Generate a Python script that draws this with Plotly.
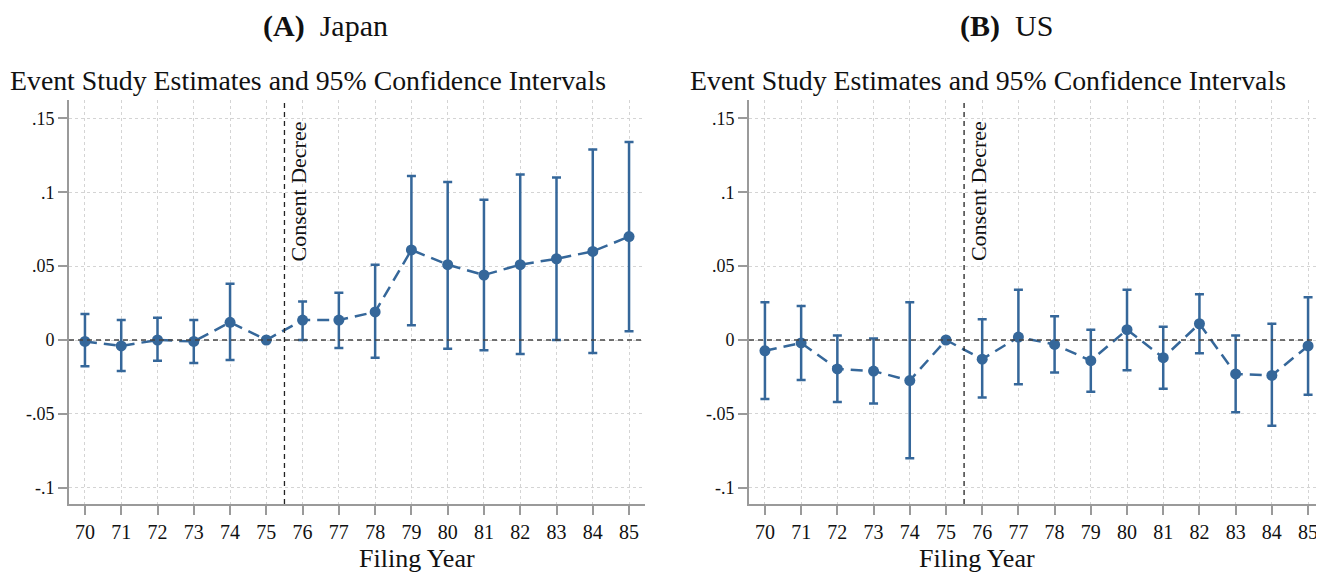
import plotly.graph_objects as go

years = list(range(70, 86))
year_labels = [str(y) for y in years]

jp_est = [-0.001, -0.004, 0.0, -0.001, 0.012, 0.0, 0.0135, 0.0135, 0.019, 0.061, 0.051, 0.044, 0.051, 0.055, 0.060, 0.070]
jp_hi = [0.0176, 0.0135, 0.015, 0.0135, 0.038, None, 0.026, 0.032, 0.051, 0.111, 0.107, 0.095, 0.112, 0.110, 0.129, 0.134]
jp_lo = [-0.0178, -0.021, -0.014, -0.0155, -0.0135, None, 0.0, -0.0055, -0.012, 0.010, -0.006, -0.007, -0.0095, 0.0, -0.0088, 0.006]

us_est = [-0.0073, -0.002, -0.0196, -0.021, -0.0275, 0.0, -0.013, 0.002, -0.003, -0.014, 0.007, -0.012, 0.011, -0.023, -0.024, -0.004]
us_hi = [0.0255, 0.023, 0.003, 0.001, 0.0255, None, 0.014, 0.034, 0.016, 0.007, 0.034, 0.009, 0.031, 0.003, 0.011, 0.029]
us_lo = [-0.040, -0.027, -0.042, -0.043, -0.080, None, -0.039, -0.030, -0.022, -0.035, -0.0205, -0.033, -0.009, -0.049, -0.058, -0.037]

y_ticks = [-0.1, -0.05, 0, 0.05, 0.1, 0.15]
y_tick_labels = ["-.1", "-.05", "0", ".05", ".1", ".15"]

panel_titles = ["<b>(A)</b>\u2002Japan", "<b>(B)</b>\u2002US"]
subtitle = "Event Study Estimates and 95% Confidence Intervals"
x_title = "Filing Year"
event_label = "Consent Decree"
event_x = 75.5

COLOR = "#35679A"
SERIF = "Liberation Serif"
VW, VH = 1324, 575          # viewport
OFF = 8                     # default page body margin
W, H = VW - OFF, VH - OFF   # figure size so that it fills the viewport


def px(xp):
    return (xp - OFF) / W


def py(yp):
    return 1 - (yp - OFF) / H


def errs(est, hi, lo):
    up = [(h - e) if h is not None else float("nan") for e, h in zip(est, hi)]
    dn = [(e - l) if l is not None else float("nan") for e, l in zip(est, lo)]
    return up, dn


fig = go.Figure()

panels = [
    (jp_est, jp_hi, jp_lo, "x", "y", [px(69), px(645)]),
    (us_est, us_hi, us_lo, "x2", "y2", [px(749), 1.0]),
]

y_dom = [py(504), py(100)]
y_range = [(340 - 504) / 1477, (340 - 100) / 1477]
x_range = [69.56, 85.44]

for i, (est, hi, lo, xa, ya, dom) in enumerate(panels):
    up, dn = errs(est, hi, lo)
    fig.add_trace(go.Scatter(
        x=years, y=est, xaxis=xa, yaxis=ya, mode="lines+markers",
        line=dict(color=COLOR, width=2.5, dash="12px,7px"),
        marker=dict(color=COLOR, size=11),
        error_y=dict(type="data", symmetric=False, array=up, arrayminus=dn,
                     color=COLOR, thickness=2.5, width=4.5),
        showlegend=False, cliponaxis=False,
    ))
    sfx = "" if i == 0 else "2"
    fig.update_layout(**{
        "xaxis" + sfx: dict(
            domain=dom, range=x_range, tickmode="array", tickvals=years,
            ticktext=year_labels, showgrid=True, gridcolor="#d4d4d4",
            griddash="dot", gridwidth=1, zeroline=False, showline=True,
            linecolor="#9a9a9a", linewidth=2, ticks="outside", ticklen=9,
            tickwidth=2, tickcolor="#9a9a9a", anchor="y" + sfx, automargin=False,
            tickfont=dict(family=SERIF, size=20, color="#111"),
        ),
        "yaxis" + sfx: dict(
            domain=y_dom, range=y_range, tickmode="array", tickvals=y_ticks,
            ticktext=y_tick_labels, showgrid=True, gridcolor="#d4d4d4",
            griddash="dot", gridwidth=1, zeroline=False, showline=True,
            linecolor="#9a9a9a", linewidth=2, ticks="outside", ticklen=9,
            tickwidth=2, tickcolor="#9a9a9a", anchor="x" + sfx, automargin=False,
            tickfont=dict(family=SERIF, size=18, color="#111"),
        ),
    })
    # zero reference line
    fig.add_shape(type="line", xref="paper", yref=ya,
                  x0=dom[0], x1=dom[1], y0=0, y1=0,
                  line=dict(color="#444", width=1.5, dash="5px,4px"))
    # event vertical line
    fig.add_shape(type="line", xref=xa, yref="paper", x0=event_x, x1=event_x,
                  y0=y_dom[0], y1=y_dom[1],
                  line=dict(color="#222", width=1.3, dash="5px,4px"))
    fig.add_annotation(x=event_x, y=(340 - 263) / 1477, xref=xa, yref=ya,
                       text=event_label, textangle=-90, showarrow=False,
                       xshift=14, yanchor="bottom", xanchor="center",
                       font=dict(family=SERIF, size=22, color="#111"))
    center = (dom[0] + dom[1]) / 2
    fig.add_annotation(x=center, y=py(575), xref="paper", yref="paper",
                       text=x_title, showarrow=False, yanchor="bottom",
                       font=dict(family=SERIF, size=26, color="#111"))
    fig.add_annotation(x=px([325, 1006][i]), y=py(26), xref="paper", yref="paper",
                       text=panel_titles[i], showarrow=False, yanchor="middle",
                       xanchor="center",
                       font=dict(family=SERIF, size=30, color="#111"))
    fig.add_annotation(x=px([8, 688][i]), y=py(81), xref="paper", yref="paper",
                       text=subtitle, showarrow=False, yanchor="middle", xanchor="left",
                       font=dict(family=SERIF, size=27.8, color="#111"))

fig.update_layout(width=W, height=H, margin=dict(l=0, r=0, t=0, b=0),
                  plot_bgcolor="white", paper_bgcolor="white")

fig.write_html("out.html")
